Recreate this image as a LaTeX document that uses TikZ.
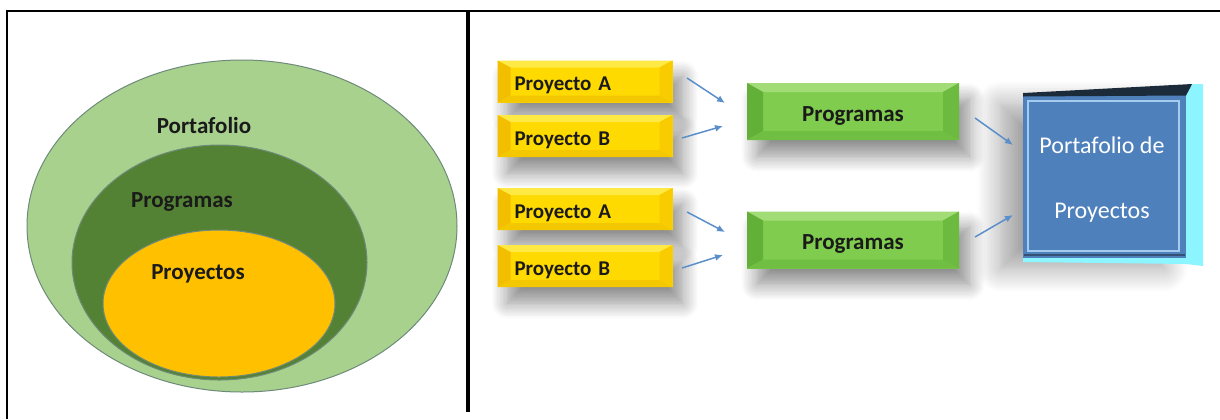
\documentclass[tikz,border=0pt]{standalone}
\usepackage{fontspec}
\setmainfont{Carlito}
\usetikzlibrary{calc,arrows.meta,shadows.blur}

% ring colours
\definecolor{outerG}{HTML}{A9D18E}
\definecolor{midG}{HTML}{548235}
\definecolor{innerY}{HTML}{FFC000}
\definecolor{ringLine}{HTML}{6E8A7A}
% yellow bevel
\definecolor{yFace}{HTML}{FFDA00}
\definecolor{yTop}{HTML}{FFEA45}
\definecolor{yLeft}{HTML}{F4BE00}
\definecolor{yBot}{HTML}{F4C800}
\definecolor{yRight}{HTML}{F8CC00}
% green bevel
\definecolor{gFace}{HTML}{80CC4E}
\definecolor{gTop}{HTML}{A2DC76}
\definecolor{gLeft}{HTML}{63B039}
\definecolor{gBot}{HTML}{70BF42}
\definecolor{gRight}{HTML}{6CBA3F}
% blue block
\definecolor{bFace}{HTML}{4E80BC}
\definecolor{bEdge}{HTML}{8CF5FF}
\definecolor{bDark}{HTML}{1C2B3A}
\definecolor{bLine}{HTML}{A5CBEF}
\definecolor{arrowC}{HTML}{5B8FC9}
\definecolor{ink}{HTML}{1A1A1A}

% four bevel facets around a rectangular node: node, bx, by, top, left, bottom, right
\newcommand\bevelfacets[7]{%
  \fill[#4] (#1.north west) -- (#1.north east) -- ($(#1.north east)+(-#2,#3)$) -- ($(#1.north west)+(#2,#3)$) -- cycle;
  \fill[#5] (#1.north west) -- ($(#1.north west)+(#2,#3)$) -- ($(#1.south west)+(#2,-#3)$) -- (#1.south west) -- cycle;
  \fill[#6] (#1.south west) -- ($(#1.south west)+(#2,-#3)$) -- ($(#1.south east)+(-#2,-#3)$) -- (#1.south east) -- cycle;
  \fill[#7] (#1.north east) -- ($(#1.north east)+(-#2,#3)$) -- ($(#1.south east)+(-#2,-#3)$) -- (#1.south east) -- cycle;
}

\tikzset{
  ring/.style={draw=ringLine, line width=0.5pt},
  lbl/.style={anchor=base, inner sep=0pt, text=ink, font=\bfseries\fontsize{11.5}{13}\selectfont},
  ybox/.style={rectangle, fill=yFace, outer sep=0pt, inner xsep=8.5pt, inner ysep=0pt,
    minimum width=87.5pt, minimum height=21pt, text width=70.5pt, align=left,
    text height=9pt, text depth=0pt, text=ink,
    font=\bfseries\fontsize{10.5}{12}\selectfont,
    blur shadow={shadow xshift=5pt, shadow yshift=-8pt, shadow blur radius=8pt,
      shadow blur steps=12, shadow opacity=45}},
  gbox/.style={rectangle, fill=gFace, outer sep=0pt, inner sep=0pt,
    minimum width=106pt, minimum height=28.5pt, align=center,
    text height=9.5pt, text depth=0pt, text=ink,
    font=\bfseries\fontsize{11.5}{13}\selectfont,
    blur shadow={shadow xshift=5pt, shadow yshift=-8pt, shadow blur radius=8pt,
      shadow blur steps=12, shadow opacity=45}},
  bface/.style={rectangle, fill=bFace, outer sep=0pt, inner sep=0pt,
    minimum width=81.5pt, minimum height=81.5pt,
    blur shadow={shadow xshift=-11pt, shadow yshift=-5pt, shadow blur radius=12pt,
      shadow blur steps=14, shadow opacity=38}},
  btext/.style={anchor=base, inner sep=0pt, text=white, font=\fontsize{12}{14}\selectfont},
  arr/.style={draw=arrowC, line width=0.75pt, -{Latex[length=4pt,width=3.5pt]}},
}

\begin{document}
\begin{tikzpicture}[x=0.5pt, y=-0.5pt]
\useasboundingbox (0,0) rectangle (1220,419);

% frame and divider
\draw[line width=1pt] (7,419) -- (7,10.5) -- (1220,10.5);
\draw[line width=2pt] (468,12) -- (468,412);

% nested sets
\fill[outerG, ring] (242,226) ellipse [x radius=215, y radius=166];
\fill[midG, ring] (219.5,262.5) ellipse [x radius=147.5, y radius=117.5];
\fill[innerY, ring] (219,303.5) ellipse [x radius=116, y radius=73.5];
\node[lbl] (lport) at (204,133) {Portafolio};
\node[lbl] (lprog) at (182,207) {Programas};
\node[lbl] (lproy) at (198,279) {Proyectos};

% project boxes
\node[ybox] (pa1) at (585,81.5) {Proyecto A};
\node[ybox] (pb1) at (585,136) {Proyecto B};
\node[ybox] (pa2) at (585,209) {Proyecto A};
\node[ybox] (pb2) at (585,266) {Proyecto B};
\foreach \n in {pa1,pb1,pa2,pb2}{\bevelfacets{\n}{13}{7}{yTop}{yLeft}{yBot}{yRight}}

% programme boxes
\node[gbox] (pg1) at (853,111.5) {Programas};
\node[gbox] (pg2) at (853,240) {Programas};
\foreach \n in {pg1,pg2}{\bevelfacets{\n}{16}{9}{gTop}{gLeft}{gBot}{gRight}}

% portfolio block
\node[bface] (pf) at (1104.5,176.5) {};
\fill[bEdge] (pf.north east) -- (1192,84) -- (1203,84) -- (1203,266) -- (1186,264) -- cycle;
\fill[bEdge] (pf.south west) -- (pf.south east) -- (1186,264) -- (1023,262) -- cycle;
\fill[bDark] (1023,93) -- (1192,84) -- (1190,88) -- (1186,95.5) -- (1023,96.5) -- cycle;
\draw[bLine, line width=0.6pt] (1028,101) rectangle (1179,251);
\draw[bDark!55!bFace, line width=0.8pt] (1024,255) -- (1185,255);
\node[btext] (pft1) at (1102,153) {Portafolio de};
\node[btext] (pft2) at (1102,218) {Proyectos};

% connectors
\coordinate (a1s) at (687,78);   \coordinate (a1e) at (725,103);
\coordinate (a2s) at (682,138);  \coordinate (a2e) at (723,126);
\coordinate (a3s) at (687,212);  \coordinate (a3e) at (725,232);
\coordinate (a4s) at (682,268);  \coordinate (a4e) at (723,255);
\coordinate (a5s) at (975,118);  \coordinate (a5e) at (1013,145);
\coordinate (a6s) at (975,237);  \coordinate (a6e) at (1013,215);
\foreach \k in {1,...,6}{\draw[arr] (a\k s) -- (a\k e);}
\end{tikzpicture}
\end{document}
